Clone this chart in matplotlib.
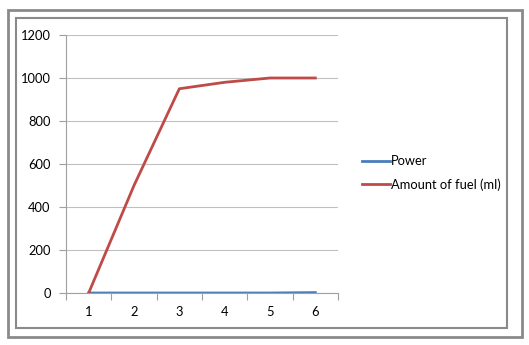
import matplotlib.pyplot as plt
from matplotlib.patches import Rectangle

plt.rcParams['font.family'] = ['Lato', 'DejaVu Sans']

trials = [1, 2, 3, 4, 5, 6]
power = [0, 0, 0, 0, 0, 2]
fuel = [0, 500, 950, 980, 1000, 1000]

W, H = 529, 345
fig = plt.figure(figsize=(W / 100, H / 100), dpi=100)

# double frame like the excel chart border
fig.patches.append(Rectangle((8 / W, 1 - 337 / H), 514 / W, 327 / H,
                             transform=fig.transFigure, fill=False,
                             edgecolor='#8a8a8a', linewidth=2.0))
fig.patches.append(Rectangle((16 / W, 1 - 328 / H), 491 / W, 310 / H,
                             transform=fig.transFigure, fill=False,
                             edgecolor='#8a8a8a', linewidth=1.5))

ax = fig.add_axes([66 / W, 1 - 293 / H, 272 / W, 258 / H])

l1, = ax.plot(trials, power, color='#4A7EBB', linewidth=2.0, label='Power')
l2, = ax.plot(trials, fuel, color='#BE4B48', linewidth=2.0,
              label='Amount of fuel (ml)')

ax.set_xlim(0.5, 6.5)
ax.set_ylim(0, 1200)
ax.set_yticks(range(0, 1201, 200))
ax.set_xticks(trials)
ax.set_xticks([x + 0.5 for x in range(0, 7)], minor=True)
ax.tick_params(axis='x', which='major', length=0, pad=9, labelsize=9.3)
ax.tick_params(axis='x', which='minor', length=5, color='#a0a0a0', width=0.8)
ax.tick_params(axis='y', length=5, color='#a0a0a0', width=0.8, pad=6,
               labelsize=9.3)

ax.grid(axis='y', color='#c0c0c0', linewidth=0.8)
ax.set_axisbelow(True)
for s in ['top', 'right']:
    ax.spines[s].set_visible(False)
ax.spines['left'].set_color('#a0a0a0')
ax.spines['bottom'].set_color('#a0a0a0')
ax.spines['left'].set_linewidth(0.8)
ax.spines['bottom'].set_linewidth(0.8)

fig.legend(handles=[l1, l2], loc='center left',
           bbox_to_anchor=(350 / W, 1 - 173 / H), frameon=False,
           fontsize=9.3, handlelength=2.2, handletextpad=0.05,
           labelspacing=0.85)

fig.savefig('out.png', dpi=100)
